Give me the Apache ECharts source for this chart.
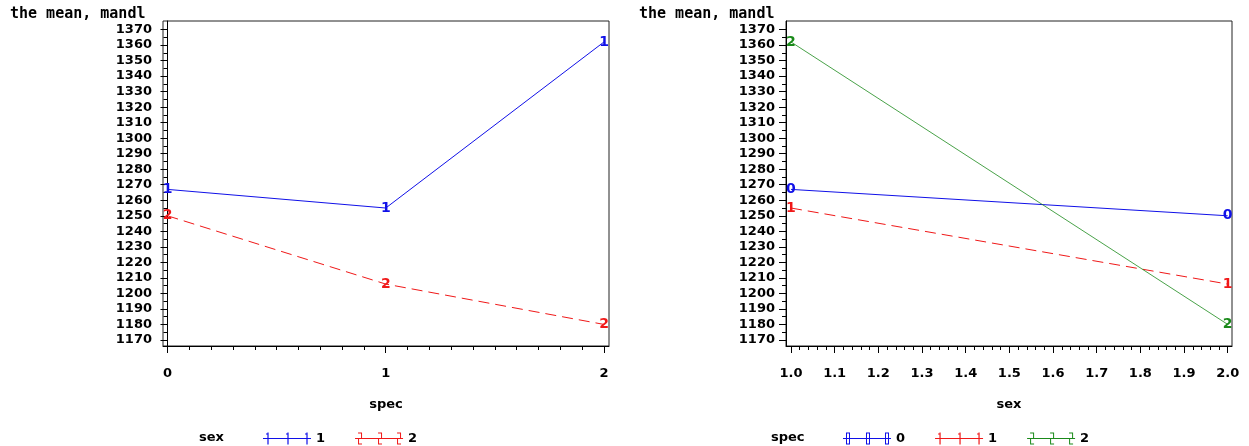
<!DOCTYPE html>
<html>
<head>
<meta charset="utf-8">
<script src="https://cdn.jsdelivr.net/npm/echarts@6/dist/echarts.min.js"></script>
<style>
  html, body { margin: 0; padding: 0; background: #fff; }
  #chart { width: 1249px; height: 446px; }
</style>
</head>
<body>
<div id="chart"></div>
<script>
// levels of the two factors
const specLevels = [0, 1, 2];
const sexLevels = [1, 2];
// mean of mandl by spec, for each sex
const meanSex1 = [1267, 1255, 1362];
const meanSex2 = [1250, 1206, 1180];
// tick labels
const yTicks = [1170, 1180, 1190, 1200, 1210, 1220, 1230, 1240, 1250, 1260, 1270,
  1280, 1290, 1300, 1310, 1320, 1330, 1340, 1350, 1360, 1370];
const yMinorTicks = [1175, 1185, 1195, 1205, 1215, 1225, 1235, 1245, 1255, 1265,
  1275, 1285, 1295, 1305, 1315, 1325, 1335, 1345, 1355, 1365];
const specTicks = [0, 1, 2];
const sexTicks = [1.0, 1.1, 1.2, 1.3, 1.4, 1.5, 1.6, 1.7, 1.8, 1.9, 2.0];

const BLUE = '#1010e8'
const RED = '#f01818'
const GREEN = '#1a8a1a'
const labelFont = 'DejaVu Sans'

// minor ticks on the x axes
const specMinor = []
for (let i = 1; i < 20; i++) {
  if (i % 10 !== 0) specMinor.push(i / 10)
}
const sexMinor = []
for (let i = 1; i < 50; i++) {
  if (i % 5 !== 0) sexMinor.push(1 + i / 50)
}

// legend icon: line with three digit glyphs drawn as small bars
function glyph(d, c) {
  const l = c - 2, r = c + 2
  if (d === '1') {
    return `M${c - 0.6},0h1.2v12h-1.2z M${c - 2},1h1.4v1h-1.4z`
  }
  if (d === '0') {
    return `M${l},0h4v1h-4z M${l},11h4v1h-4z M${l},0h1v12h-1z M${r - 1},0h1v12h-1z`
  }
  // 2
  return `M${l},0h4v1h-4z M${r - 1},0h1v6h-1z M${l},5.5h4v1h-4z M${l},6h1v6h-1z M${l},11h4v1h-4z`
}
function legendIcon(d) {
  return 'path://M0,5.5h48v1h-48z ' + [5, 25, 44].map(c => glyph(d, c)).join(' ')
}

const labelStyle = (color) => ({
  show: true,
  position: 'inside',
  formatter: p => p.seriesName.split(' ')[1],
  color: color,
  fontFamily: labelFont,
  fontWeight: 'bold',
  fontSize: 14
})

function lineSeries(name, data, color, type, width, xi, yi) {
  return {
    name: name,
    type: 'line',
    xAxisIndex: xi,
    yAxisIndex: yi,
    data: data,
    symbol: 'circle',
    symbolSize: 0.01,
    itemStyle: {color: color},
    lineStyle: {color: color, width: width, type: type},
    label: labelStyle(color),
    emphasis: {disabled: true}
  }
}

const axisText = {color: '#000', fontFamily: labelFont, fontWeight: 'bold', fontSize: 13}

function yAxes(gi) {
  return [
    {
      type: 'value', gridIndex: gi, position: 'left',
      min: 1166.1, max: 1375.5,
      axisLine: {show: true, lineStyle: {color: '#000'}},
      axisTick: {show: true, length: 7, customValues: yTicks, lineStyle: {color: '#000'}},
      axisLabel: Object.assign({margin: 11, customValues: yTicks, formatter: v => String(v)}, axisText),
      splitLine: {show: false}
    },
    {
      type: 'value', gridIndex: gi, position: 'left', offset: 0,
      min: 1166.1, max: 1375.5,
      axisLine: {show: false},
      axisTick: {show: true, length: 4, customValues: yMinorTicks, lineStyle: {color: '#000'}},
      axisLabel: {show: false},
      splitLine: {show: false}
    }
  ]
}

function xAxes(gi, min, max, major, minor, name, fmt) {
  return [
    {
      type: 'value', gridIndex: gi, position: 'bottom',
      min: min, max: max,
      name: name, nameLocation: 'middle', nameGap: 52,
      nameTextStyle: axisText,
      axisLine: {show: true, lineStyle: {color: '#000'}},
      axisTick: {show: true, length: 7, customValues: major, lineStyle: {color: '#000'}},
      axisLabel: Object.assign({margin: 21, customValues: major, formatter: fmt}, axisText),
      splitLine: {show: false}
    },
    {
      type: 'value', gridIndex: gi, position: 'bottom', offset: 0,
      min: min, max: max,
      axisLine: {show: false},
      axisTick: {show: true, length: 4, customValues: minor, lineStyle: {color: '#000'}},
      axisLabel: {show: false},
      splitLine: {show: false}
    }
  ]
}

const left = [
  lineSeries('sex 1', specLevels.map((s, i) => [s, meanSex1[i]]), BLUE, 'solid', 1, 0, 0),
  lineSeries('sex 2', specLevels.map((s, i) => [s, meanSex2[i]]), RED, [11, 6], 1, 0, 0)
]
const specColors = [BLUE, RED, GREEN]
const specTypes = ['solid', [11, 6], 'solid']
const specWidths = [1, 1, 0.8]
const right = specLevels.map((s, i) => lineSeries(
  'spec ' + s,
  [[sexLevels[0], meanSex1[i]], [sexLevels[1], meanSex2[i]]],
  specColors[i], specTypes[i], specWidths[i], 2, 2))

const titleText = {color: '#000', fontFamily: 'DejaVu Sans Mono', fontWeight: 'bold', fontSize: 15}
const legendHead = {color: '#000', fontFamily: labelFont, fontWeight: 'bold', fontSize: 13}

const myChart = echarts.init(document.getElementById('chart'), null, {renderer: 'canvas'})
myChart.setOption({
  animation: false,
  backgroundColor: '#fff',
  title: [
    {text: 'the mean, mandl', left: 10, top: 7, padding: 0, textStyle: titleText},
    {text: 'the mean, mandl', left: 639, top: 7, padding: 0, textStyle: titleText},
    {text: 'sex', left: 199, top: 431, padding: 0, textStyle: legendHead},
    {text: 'spec', left: 771, top: 431, padding: 0, textStyle: legendHead}
  ],
  grid: [
    {left: 163, top: 21, width: 446, height: 325, show: true, borderColor: '#222', borderWidth: 1},
    {left: 786, top: 21, width: 446, height: 325, show: true, borderColor: '#222', borderWidth: 1}
  ],
  xAxis: [
    ...xAxes(0, -0.0206, 2.0229, specTicks, specMinor, 'spec', v => String(v)),
    ...xAxes(1, 0.9886, 2.0098, sexTicks, sexMinor, 'sex', v => v.toFixed(1))
  ],
  yAxis: [...yAxes(0), ...yAxes(1)],
  legend: [
    {
      left: 258, top: 427, itemWidth: 48, itemHeight: 12, itemGap: 30,
      selectedMode: false,
      data: [
        {name: 'sex 1', icon: legendIcon('1')},
        {name: 'sex 2', icon: legendIcon('2')}
      ],
      formatter: n => n.split(' ')[1],
      itemStyle: {borderWidth: 0},
      textStyle: legendHead
    },
    {
      left: 838, top: 427, itemWidth: 48, itemHeight: 12, itemGap: 30,
      selectedMode: false,
      data: [
        {name: 'spec 0', icon: legendIcon('0')},
        {name: 'spec 1', icon: legendIcon('1')},
        {name: 'spec 2', icon: legendIcon('2')}
      ],
      formatter: n => n.split(' ')[1],
      itemStyle: {borderWidth: 0},
      textStyle: legendHead
    }
  ],
  series: [...left, ...right]
});
</script>
</body>
</html>
